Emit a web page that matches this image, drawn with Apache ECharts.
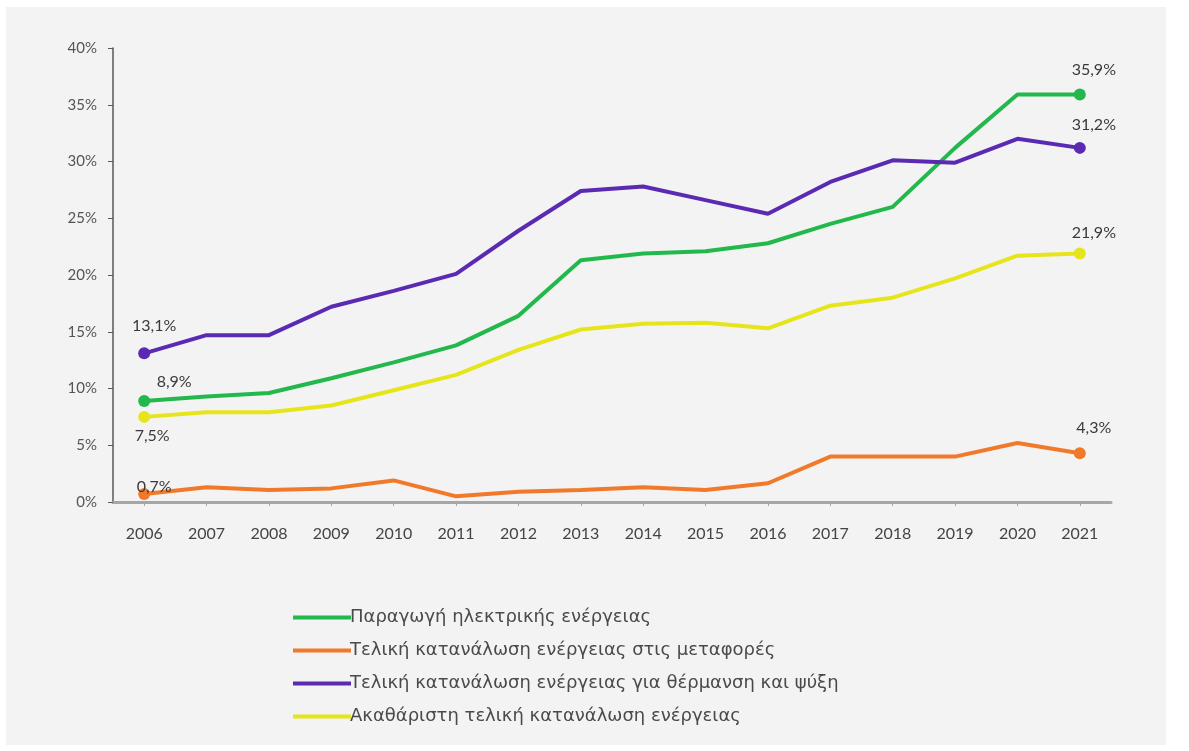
<!DOCTYPE html>
<html><head><meta charset="utf-8">
<script src="https://cdn.jsdelivr.net/npm/echarts@6/dist/echarts.min.js"></script>
<style>
html,body{margin:0;padding:0;background:#fff;}
#bg{position:absolute;left:6px;top:7px;width:1160px;height:738px;background:#f3f3f3;}
#chart{position:absolute;left:0;top:0;width:1189px;height:751px;}
</style></head>
<body><div id="bg"></div><div id="chart"></div>
<script>
const years = ['2006','2007','2008','2009','2010','2011','2012','2013','2014','2015','2016','2017','2018','2019','2020','2021'];
const electricity = [8.9, 9.3, 9.6, 10.9, 12.3, 13.8, 16.4, 21.3, 21.9, 22.1, 22.8, 24.5, 26.0, 31.2, 35.9, 35.9];
const transport = [0.7, 1.3, 1.05, 1.2, 1.9, 0.5, 0.9, 1.05, 1.3, 1.05, 1.65, 4.0, 4.0, 4.0, 5.2, 4.3];
const heating = [13.1, 14.7, 14.7, 17.2, 18.6, 20.1, 23.9, 27.4, 27.8, 26.6, 25.4, 28.2, 30.1, 29.9, 32.0, 31.2];
const gross = [7.5, 7.9, 7.9, 8.5, 9.85, 11.2, 13.4, 15.2, 15.7, 15.8, 15.3, 17.3, 18.0, 19.7, 21.7, 21.9];
const names = ['Παραγωγή ηλεκτρικής ενέργειας','Τελική κατανάλωση ενέργειας στις μεταφορές','Τελική κατανάλωση ενέργειας για θέρμανση και ψύξη','Ακαθάριστη τελική κατανάλωση ενέργειας'];
const colors = ['#22b84c','#f07a2a','#5a2ab3','#e6e51c'];
const yTicks = [0,5,10,15,20,25,30,35,40];

const fmt = v => v.toFixed(1).replace('.', ',') + '%';
// label placement for first / last points: [position, offset]
const endLabels = [
  {first:['top',[30,0]], last:['top',[14,-6]]},
  {first:['top',[10,12]], last:['top',[14,-6]]},
  {first:['top',[10,-8]], last:['top',[14,-4]]},
  {first:['bottom',[8,0]], last:['top',[14,-2]]}
];
const datasets = [electricity, transport, heating, gross];

function makeSeries(i){
  const arr = datasets[i];
  const data = arr.map((v, k) => {
    if (k === 0 || k === arr.length - 1) {
      const p = k === 0 ? endLabels[i].first : endLabels[i].last;
      return {value: v, symbol: 'circle', symbolSize: 12,
        label: {show: true, position: p[0], offset: p[1], formatter: fmt(v),
          color: '#3a3a3a', fontSize: 16, fontFamily: 'Lato'}};
    }
    return {value: v, symbol: 'none'};
  });
  return {
    name: names[i], type: 'line', data: data, showSymbol: true,
    lineStyle: {width: 4, color: colors[i]}, itemStyle: {color: colors[i]},
    symbol: 'none', z: i === 1 ? 3 : 2
  };
}

const chart = echarts.init(document.getElementById('chart'));
chart.setOption({
  animation: false,
  backgroundColor: 'transparent',
  color: colors,
  grid: {left: 113, right: 78, top: 48, bottom: 249, containLabel: false},
  xAxis: {
    type: 'category', data: years, boundaryGap: true,
    axisLine: {lineStyle: {color: '#a6a6a6', width: 3}},
    axisTick: {show: true, alignWithLabel: true, length: 4, lineStyle: {color: '#a6a6a6'}},
    axisLabel: {color: '#444', fontSize: 16, fontFamily: 'Lato', margin: 24}
  },
  yAxis: {
    type: 'value', min: 0, max: 40, interval: 5,
    axisLine: {show: true, lineStyle: {color: '#595959', width: 1.5}},
    axisTick: {show: true, length: 5, lineStyle: {color: '#595959'}},
    splitLine: {show: false},
    axisLabel: {color: '#555', fontSize: 15, fontFamily: 'Lato', margin: 16,
      formatter: v => yTicks.includes(v) ? v + '%' : ''}
  },
  legend: {
    orient: 'vertical', left: 288, top: 603, itemWidth: 58, itemHeight: 4, itemGap: 14,
    icon: 'rect',
    textStyle: {color: '#4a4a4a', fontSize: 18, lineHeight: 19, fontFamily: 'DejaVu Sans', padding: [0,0,0,-6]},
    data: names
  },
  series: [0,1,2,3].map(makeSeries)
});
</script></body></html>
